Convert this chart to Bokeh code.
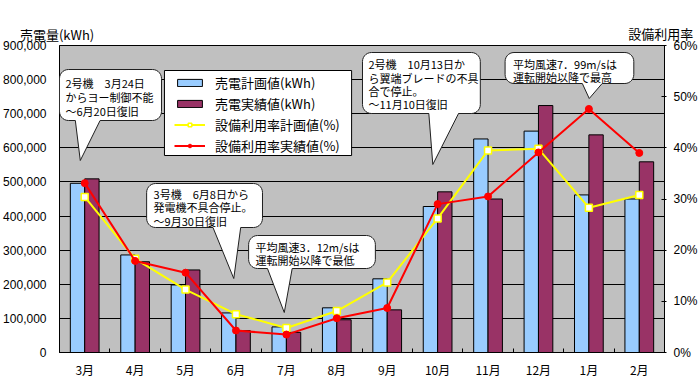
import numpy as np
from bokeh.plotting import figure
from bokeh.models import (Range1d, LinearAxis, FixedTicker, SingleIntervalTicker,
                          NumeralTickFormatter, PrintfTickFormatter, Legend, LegendItem,
                          Label, PolyAnnotation, BoxAnnotation)
from bokeh.embed import file_html
from bokeh.resources import INLINE

# ---------------- data ----------------
months = ["3月", "4月", "5月", "6月", "7月", "8月", "9月", "10月", "11月", "12月", "1月", "2月"]
plan_kwh = [496000, 286000, 198000, 116000, 75000, 131000, 216000, 428000, 626000, 649000, 462000, 450000]
actual_kwh = [509000, 266000, 242000, 64000, 59000, 96000, 125000, 471000, 450000, 724000, 638000, 559000]
plan_rate = [30.4, 18.3, 12.3, 7.5, 4.8, 8.1, 13.7, 26.2, 39.5, 39.8, 28.3, 30.8]
actual_rate = [33.1, 17.9, 15.6, 4.3, 3.5, 6.7, 8.7, 29.0, 30.5, 39.1, 47.6, 39.0]

series_names = ["売電計画値(kWh)", "売電実績値(kWh)", "設備利用率計画値(%)", "設備利用率実績値(%)"]
left_title = "売電量(kWh)"
right_title = "設備利用率"

note1 = ["2号機　3月24日", "からヨー制御不能", "～6月20日復旧"]
note2 = ["3号機　6月8日から", "発電機不具合停止。", "～9月30日復旧"]
note3 = ["平均風速3．12m/sは", "運転開始以降で最低"]
note4 = ["2号機　10月13日か", "ら翼端ブレードの不具", "合で停止。", "～11月10日復旧"]
note5 = ["平均風速7．99m/sは", "運転開始以降で最高"]

JP = "Noto Sans CJK JP"
NUM = "Liberation Sans"

# ---------------- figure ----------------
FL, FT, FW, FH = 57, 45, 611, 307  # frame position inside the canvas
W, H = 700, 386
YMAX, RMAX = 900000, 60
N = len(months)

p = figure(width=W, height=H, output_backend="svg", toolbar_location=None,
           x_range=Range1d(0, N), y_range=Range1d(0, YMAX),
           min_border_left=FL, min_border_right=W - FL - FW,
           min_border_top=FT, min_border_bottom=H - FT - FH)
p.extra_y_ranges = {"rate": Range1d(0, RMAX)}
p.background_fill_color = "#C0C0C0"
p.border_fill_color = "white"
p.outline_line_color = "black"
p.outline_line_width = 1

# page-pixel -> data conversion
PX0, PY0 = FL, FT
def dx(px):
    return (px - PX0) / FW * N
def dy(py):
    return (PY0 + FH - py) / FH * YMAX

# x axis
centers = np.arange(N) + 0.5
p.xaxis.ticker = FixedTicker(ticks=list(centers), minor_ticks=list(range(N + 1)))
p.xaxis.major_label_overrides = {float(c): m for c, m in zip(centers, months)}
p.xaxis.major_tick_in = 0
p.xaxis.major_tick_out = 0
p.xaxis.minor_tick_in = 4
p.xaxis.minor_tick_out = 0
p.xaxis.minor_tick_line_color = "black"
p.xaxis.major_label_standoff = 8
p.xaxis.major_label_text_font = JP
p.xaxis.major_label_text_font_size = "12px"
p.xaxis.major_label_text_color = "black"
p.xaxis.axis_line_color = "black"
p.xgrid.visible = False

# left axis
p.yaxis.ticker = SingleIntervalTicker(interval=100000, num_minor_ticks=0)
p.yaxis.formatter = NumeralTickFormatter(format="0,0")
p.yaxis.major_tick_in = 0
p.yaxis.major_tick_out = 0
p.yaxis.minor_tick_line_color = None
p.yaxis.major_label_standoff = 13
p.yaxis.major_label_text_font = NUM
p.yaxis.major_label_text_font_size = "12px"
p.yaxis.major_label_text_color = "black"
p.yaxis.axis_line_color = "black"
p.ygrid.ticker = SingleIntervalTicker(interval=100000, num_minor_ticks=0)
p.ygrid.grid_line_color = "black"
p.ygrid.grid_line_width = 1

# right axis
rax = LinearAxis(y_range_name="rate",
                 ticker=SingleIntervalTicker(interval=10, num_minor_ticks=0),
                 formatter=PrintfTickFormatter(format="%d%%"))
rax.major_tick_in = 3
rax.major_tick_out = 2
rax.minor_tick_line_color = None
rax.major_label_standoff = 7
rax.major_label_text_font = NUM
rax.major_label_text_font_size = "12px"
rax.major_label_text_color = "black"
rax.axis_line_color = "black"
p.add_layout(rax, "right")

# bars
bw = 0.285
b1 = p.vbar(x=centers - bw / 2, top=plan_kwh, width=bw, fill_color="#99CCFF",
            line_color="black", line_width=1)
b2 = p.vbar(x=centers + bw / 2, top=actual_kwh, width=bw, fill_color="#993366",
            line_color="black", line_width=1)

# lines
l1 = p.line(centers, plan_rate, y_range_name="rate", line_color="#FFFF00", line_width=2)
s1 = p.scatter(centers, plan_rate, y_range_name="rate", marker="square", size=7,
               fill_color="white", line_color="#FFFF00", line_width=1.5)
l2 = p.line(centers, actual_rate, y_range_name="rate", line_color="#FF0000", line_width=2)
s2 = p.scatter(centers, actual_rate, y_range_name="rate", marker="circle", size=7,
               fill_color="#FF0000", line_color="#FF0000", line_width=1)

# legend backdrop + legend
p.add_layout(BoxAnnotation(left=dx(163), right=dx(352), top=dy(70), bottom=dy(155),
                           fill_color="white", fill_alpha=1, line_color="black",
                           line_width=1, line_alpha=1))
legend = Legend(items=[LegendItem(label=series_names[0], renderers=[b1]),
                       LegendItem(label=series_names[1], renderers=[b2]),
                       LegendItem(label=series_names[2], renderers=[l1, s1]),
                       LegendItem(label=series_names[3], renderers=[l2, s2])],
                location=(172 - PX0, PY0 + FH - 154.5),
                padding=0, margin=0, spacing=2,
                glyph_width=31, glyph_height=9, label_height=19, label_standoff=10,
                label_text_font=JP, label_text_font_size="13px", label_text_color="black",
                border_line_color=None, background_fill_alpha=0)
p.add_layout(legend, "center")

# callouts
def callout(x0, y0, x1, y1, bl, br, tx, ty, r=9):
    def arc(cx, cy, a0, a1):
        t = np.linspace(a0, a1, 8)
        return [(cx + r * np.cos(a), cy + r * np.sin(a)) for a in t]
    pts = []
    pts += arc(x0 + r, y0 + r, np.pi, 1.5 * np.pi)
    pts += arc(x1 - r, y0 + r, 1.5 * np.pi, 2 * np.pi)
    pts += arc(x1 - r, y1 - r, 0, 0.5 * np.pi)
    pts += [(br, y1), (tx, ty), (bl, y1)]
    pts += arc(x0 + r, y1 - r, 0.5 * np.pi, np.pi)
    p.add_layout(PolyAnnotation(xs=[dx(a) for a, _ in pts], ys=[dy(b) for _, b in pts],
                                fill_color="white", fill_alpha=1, line_color="#202020",
                                line_width=1, line_alpha=1))

def note(lines, x, ys):
    for t, y in zip(lines, ys):
        p.add_layout(Label(x=dx(x), y=dy(y), text=t, text_font=JP, text_font_size="11px",
                           text_baseline="middle", text_align="left", text_color="black"))

callout(57, 69, 160, 120, 73, 98, 78, 160)
note(note1, 63, [82, 96, 110])
callout(145, 183, 262, 227, 212, 240, 233, 278)
note(note2, 152, [193, 206, 220])
callout(248, 235, 376, 268, 267, 292, 284, 312)
note(note3, 255, [246, 259])
callout(363, 52, 482, 113, 430, 460, 434, 164)
note(note4, 369, [63, 77, 90, 103])
callout(507, 52, 637, 83, 585, 605, 592, 98)
note(note5, 515, [63, 76])

# axis titles (placed in the side panel above the frame so they are not clipped)
p.add_layout(Label(x=dx(17), y=dy(34), text=left_title, text_font=JP, text_font_size="13px",
                   text_baseline="middle", text_align="left", text_color="black"), "above")
p.add_layout(Label(x=dx(697), y=dy(33), text=right_title, text_font=JP, text_font_size="13px",
                   text_baseline="middle", text_align="right", text_color="black"), "above")

open("out.html", "w", encoding="utf-8").write(file_html(p, INLINE))
